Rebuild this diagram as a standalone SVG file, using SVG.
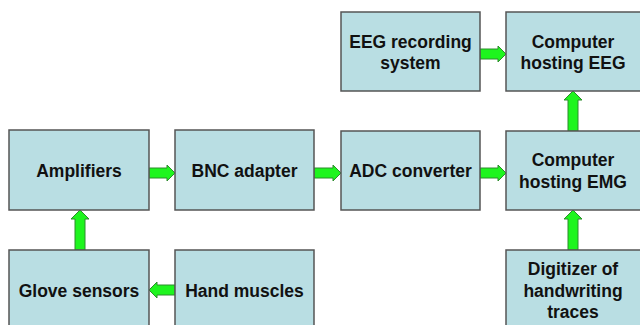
<svg xmlns="http://www.w3.org/2000/svg" width="640" height="325" viewBox="0 0 640 325">
<style>
.box{fill:#b9dee3;stroke:#555;stroke-width:1.5}
.t{font-family:"Liberation Sans",Arial,sans-serif;font-weight:bold;font-size:17.5px;fill:#111;text-anchor:middle}
.arr{fill:#1ef51e;stroke:#2c8c2c;stroke-width:1}
</style>
<rect width="640" height="325" fill="#fff"/>
<g id="connectors">
<path class="arr" d="M149 168 H167 V165 L175 173 L167 181 V178 H149 Z"/>
<path class="arr" d="M314 168 H333 V165 L341 173 L333 181 V178 H314 Z"/>
<path class="arr" d="M480 168 H498 V165 L506 173 L498 181 V178 H480 Z"/>
<path class="arr" d="M480 49 H498 V46 L506 54 L498 62 V59 H480 Z"/>
<path class="arr" d="M175 285 H157 V282 L149 290 L157 298 V295 H175 Z"/>
<path class="arr" d="M75 250 V219 H71 L80 210 L89 219 H85 V250 Z"/>
<path class="arr" d="M568 250 V219 H564 L573 210 L582 219 H578 V250 Z"/>
<path class="arr" d="M568 131 V100 H564 L573 91 L582 100 H578 V131 Z"/>
</g>
<g id="eeg-recording"><rect class="box" x="341" y="12" width="139" height="79"/><text class="t" x="410.5" y="48">EEG recording</text><text class="t" x="410.5" y="69">system</text></g>
<g id="computer-eeg"><rect class="box" x="506" y="12" width="140" height="79"/><text class="t" x="573" y="48">Computer</text><text class="t" x="573" y="69">hosting EEG</text></g>
<g id="amplifiers"><rect class="box" x="9" y="130" width="140" height="80"/><text class="t" x="79" y="177">Amplifiers</text></g>
<g id="bnc-adapter"><rect class="box" x="175" y="130" width="139" height="80"/><text class="t" x="244.5" y="177">BNC adapter</text></g>
<g id="adc-converter"><rect class="box" x="341" y="131" width="139" height="79"/><text class="t" x="410.5" y="177">ADC converter</text></g>
<g id="computer-emg"><rect class="box" x="506" y="131" width="140" height="79"/><text class="t" x="573" y="166">Computer</text><text class="t" x="573" y="188">hosting EMG</text></g>
<g id="glove-sensors"><rect class="box" x="9" y="250" width="140" height="85"/><text class="t" x="79" y="297">Glove sensors</text></g>
<g id="hand-muscles"><rect class="box" x="175" y="250" width="139" height="85"/><text class="t" x="244.5" y="297">Hand muscles</text></g>
<g id="digitizer"><rect class="box" x="506" y="250" width="140" height="85"/><text class="t" x="573" y="275">Digitizer of</text><text class="t" x="573" y="297">handwriting</text><text class="t" x="573" y="318">traces</text></g>
</svg>
